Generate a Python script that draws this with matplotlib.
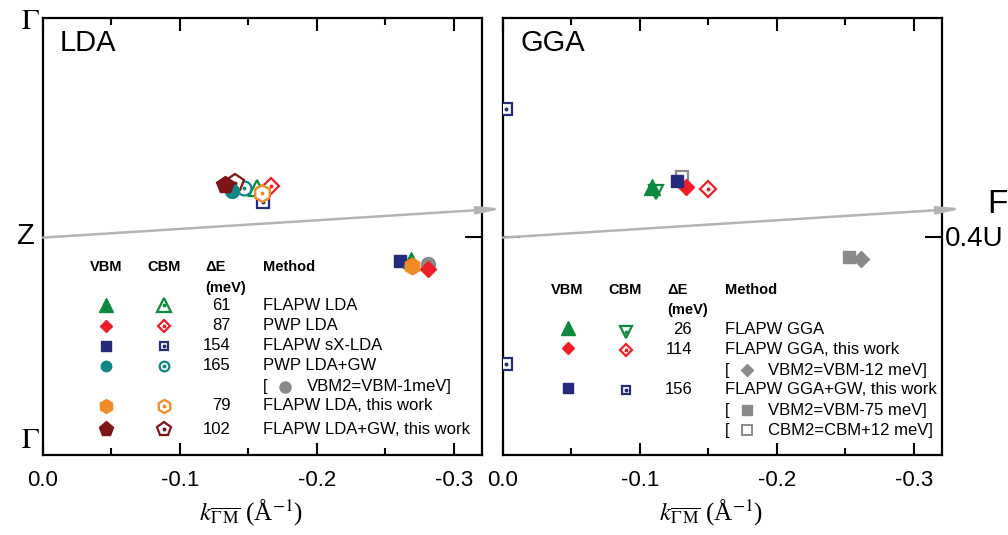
import matplotlib
matplotlib.use('Agg')
import matplotlib.pyplot as plt
from matplotlib.ticker import FixedLocator

plt.rcParams['font.family'] = ['Liberation Sans', 'DejaVu Sans']
plt.rcParams['mathtext.fontset'] = 'stix'

# colours per method
green = '#0d8a3f'
red = '#ee1d26'
navy = '#252a7a'
teal = '#0f8787'
orange = '#f28a25'
darkred = '#7b1518'
gray = '#8a8a8a'

# ---- LDA panel data ----
lda_methods = ['FLAPW LDA', 'PWP LDA', 'FLAPW sX-LDA', 'PWP LDA+GW',
               'FLAPW LDA, this work', 'FLAPW LDA+GW, this work']
lda_dE = ['61', '87', '154', '165', '79', '102']
lda_colors = [green, red, navy, teal, orange, darkred]
lda_markers = ['^', 'D', 's', 'o', 'h', 'p']
lda_vbm_k = [-0.2686, -0.281, -0.2606, -0.138, -0.2693, -0.1328]
lda_vbm_y = [-0.106, -0.151, -0.110, 0.206, -0.133, 0.234]
lda_cbm_k = [-0.156, -0.1664, -0.1606, -0.1467, -0.160, -0.140]
lda_cbm_y = [0.220, 0.229, 0.156, 0.220, 0.197, 0.243]
lda_vbm2_k = [-0.281]
lda_vbm2_y = [-0.124]

# ---- GGA panel data ----
gga_methods = ['FLAPW GGA', 'FLAPW GGA, this work', 'FLAPW GGA+GW, this work']
gga_dE = ['26', '114', '156']
gga_colors = [green, red, navy]
gga_vbm_markers = ['^', 'D', 's']
gga_cbm_markers = ['v', 'D', 's']
gga_vbm_k = [-0.1088, -0.1336, -0.127]
gga_vbm_y = [0.225, 0.225, 0.252]
gga_cbm_k = [-0.1117, -0.150, -0.002, -0.002]
gga_cbm_y = [0.202, 0.216, 0.583, -0.583]
gga_cbm_idx = [0, 1, 2, 2]
gga_vbm2_k = [-0.2613, -0.2526]   # GGA this work (diamond), GGA+GW (square)
gga_vbm2_y = [-0.105, -0.096]
gga_cbm2_k = [-0.1307]
gga_cbm2_y = [0.271]

xticks = [0.0, -0.1, -0.2, -0.3]
xticklabels = ['0.0', '-0.1', '-0.2', '-0.3']

# marker sizes: in the plot and in the tables
ms_plot = {'^': 11, 'v': 10, 'D': 8, 's': 8.5, 'o': 10, 'h': 12, 'p': 13}
ms_tab = {'^': 10, 'v': 9, 'D': 6.5, 's': 6.5, 'o': 7.5, 'h': 10, 'p': 11}

fig = plt.figure(figsize=(10.08, 5.35), dpi=100)
W, H = 1008., 535.
axL = fig.add_axes([43/W, 1-455/H, 439/W, 437/H])
axR = fig.add_axes([503/W, 1-455/H, 439/W, 437/H])


def tr(x, y, x0):
    # pixel position -> axes fraction
    return (x - x0)/439., (455. - y)/437.


def open_marker(ax, x, y, m, c, ms, transform=None, z=3):
    kw = {} if transform is None else {'transform': transform}
    ax.plot(x, y, ls='none', marker=m, ms=ms, mfc='white', mec=c, mew=1.6, zorder=z, **kw)
    ax.plot(x, y, ls='none', marker='o', ms=1.8, color=c, zorder=z, **kw)


for ax in (axL, axR):
    ax.set_xlim(0, -0.3205)
    ax.set_ylim(-1, 1)
    ax.xaxis.set_major_locator(FixedLocator(xticks))
    ax.set_xticklabels(xticklabels, fontsize=16)
    ax.xaxis.set_minor_locator(FixedLocator([-0.05, -0.15, -0.25]))
    ax.tick_params(axis='x', which='major', direction='in', length=9, width=1.5,
                   top=True, pad=11)
    ax.tick_params(axis='x', which='minor', direction='in', length=5, width=1.5, top=True)
    for s in ax.spines.values():
        s.set_linewidth(1.6)
    ax.set_xlabel(r'$k_{\overline{\Gamma}\,\overline{\mathrm{M}}}$ (Å$^{-1}$)',
                  fontsize=18, family='Liberation Serif')
    ax.xaxis.set_label_coords(0.475, -0.097)
    # gray k-path arrow
    ax.annotate('', xy=(-0.3355, 0.128), xytext=(0, -0.005), xycoords='data',
                annotation_clip=False,
                arrowprops=dict(arrowstyle='-|>,head_length=1.4,head_width=0.22',
                                color='#b3b3b3', lw=1.8, shrinkA=0, shrinkB=0))

# y ticks
axL.yaxis.set_ticks_position('right')
axL.set_yticks([0])
axL.set_yticklabels([''])
axL.tick_params(axis='y', direction='in', length=12, width=1.5)
axR.set_yticks([0])
axR.tick_params(axis='y', direction='in', length=12, width=1.5, left=True, right=True,
                labelleft=False, labelright=True, labelsize=20, pad=2)
axR.set_yticklabels(['0.4U'])

# symmetry labels
fig.text(30/W, 1-21/H, r'$\Gamma$', fontsize=21, ha='center', va='center')
fig.text(25/W, 1-236/H, 'Z', fontsize=21, ha='center', va='center')
fig.text(30/W, 1-440/H, r'$\Gamma$', fontsize=21, ha='center', va='center')
fig.text(997/W, 1-205/H, 'F', fontsize=24, ha='center', va='center')

axL.text(*tr(60, 43, 43), 'LDA', transform=axL.transAxes, fontsize=21, va='center')
axR.text(*tr(520, 43, 503), 'GGA', transform=axR.transAxes, fontsize=21, va='center')

# ---- LDA data points ----
for i in range(len(lda_methods)):
    m = lda_markers[i]
    open_marker(axL, lda_cbm_k[i], lda_cbm_y[i], m, lda_colors[i], ms_plot[m], z=3+i*0.1)
axL.plot(lda_vbm2_k, lda_vbm2_y, ls='none', marker='o', ms=ms_plot['o'], color=gray, zorder=4)
order = [3, 5, 2, 0, 1, 4]
for i in order:
    m = lda_markers[i]
    axL.plot(lda_vbm_k[i], lda_vbm_y[i], ls='none', marker=m, ms=ms_plot[m],
             color=lda_colors[i], zorder=5)
# orange open hexagon sits on top in the upper cluster
open_marker(axL, lda_cbm_k[4], lda_cbm_y[4], 'h', orange, ms_plot['h'], z=6)

# ---- GGA data points ----
axR.plot(gga_cbm2_k, gga_cbm2_y, ls='none', marker='s', ms=ms_plot['s'], mfc='white',
         mec=gray, mew=1.6, zorder=3)
for j, i in enumerate(gga_cbm_idx):
    m = gga_cbm_markers[i]
    open_marker(axR, gga_cbm_k[j], gga_cbm_y[j], m, gga_colors[i], ms_plot[m], z=3)
for i in range(len(gga_methods)):
    m = gga_vbm_markers[i]
    axR.plot(gga_vbm_k[i], gga_vbm_y[i], ls='none', marker=m, ms=ms_plot[m],
             color=gga_colors[i], zorder=5)
axR.plot(gga_vbm2_k[1], gga_vbm2_y[1], ls='none', marker='s', ms=ms_plot['s'], color=gray, zorder=5)
axR.plot(gga_vbm2_k[0], gga_vbm2_y[0], ls='none', marker='D', ms=ms_plot['D'], color=gray, zorder=4)

# ---- LDA table ----
x0 = 43
hy = 267
for lab, x in [('VBM', 106), ('CBM', 164)]:
    axL.text(*tr(x, hy, x0), lab, transform=axL.transAxes, fontsize=10.5,
             fontweight='bold', ha='center', va='center')
axL.text(*tr(205, hy, x0), 'ΔE', transform=axL.transAxes, fontsize=10.5,
         fontweight='bold', va='center')
axL.text(*tr(205, 288, x0), '(meV)', transform=axL.transAxes, fontsize=10.5,
         fontweight='bold', va='center')
axL.text(*tr(263, hy, x0), 'Method', transform=axL.transAxes, fontsize=10.5,
         fontweight='bold', va='center')
rows = [305, 326, 346, 366, 406, 429]
for i, ry in enumerate(rows):
    m = lda_markers[i]
    axL.plot(*tr(106, ry, x0), ls='none', marker=m, ms=ms_tab[m],
             color=lda_colors[i], transform=axL.transAxes, clip_on=False)
    open_marker(axL, *tr(164, ry, x0), m, lda_colors[i], ms_tab[m] - 0.5,
                transform=axL.transAxes)
    axL.text(*tr(231, ry, x0), lda_dE[i], transform=axL.transAxes, fontsize=12,
             ha='right', va='center')
    axL.text(*tr(263, ry, x0), lda_methods[i], transform=axL.transAxes, fontsize=12,
             va='center')
axL.text(*tr(263, 387, x0), '[', transform=axL.transAxes, fontsize=12, va='center')
axL.plot(*tr(285, 387, x0), ls='none', marker='o', ms=8, color=gray, transform=axL.transAxes)
axL.text(*tr(307, 387, x0), 'VBM2=VBM-1meV]', transform=axL.transAxes, fontsize=12,
         va='center')

# ---- GGA table ----
x0 = 503
hy = 290
for lab, x in [('VBM', 567), ('CBM', 625)]:
    axR.text(*tr(x, hy, x0), lab, transform=axR.transAxes, fontsize=10.5,
             fontweight='bold', ha='center', va='center')
axR.text(*tr(667, hy, x0), 'ΔE', transform=axR.transAxes, fontsize=10.5,
         fontweight='bold', va='center')
axR.text(*tr(667, 310, x0), '(meV)', transform=axR.transAxes, fontsize=10.5,
         fontweight='bold', va='center')
axR.text(*tr(725, hy, x0), 'Method', transform=axR.transAxes, fontsize=10.5,
         fontweight='bold', va='center')
rows = [330, 350, 390]
for i, ry in enumerate(rows):
    m = gga_vbm_markers[i]
    axR.plot(*tr(568, ry - 2, x0), ls='none', marker=m, ms=ms_tab[m],
             color=gga_colors[i], transform=axR.transAxes)
    mc = gga_cbm_markers[i]
    open_marker(axR, *tr(626, ry + (2 if mc == 'v' else 0), x0), mc, gga_colors[i],
                ms_tab[mc] - 0.5, transform=axR.transAxes)
    axR.text(*tr(692, ry, x0), gga_dE[i], transform=axR.transAxes, fontsize=12,
             ha='right', va='center')
    axR.text(*tr(725, ry, x0), gga_methods[i], transform=axR.transAxes, fontsize=12,
             va='center')
brackets = [(370, 'D', 'VBM2=VBM-12 meV]', True),
            (410, 's', 'VBM2=VBM-75 meV]', True),
            (430, 's', 'CBM2=CBM+12 meV]', False)]
for ry, m, lab, filled in brackets:
    axR.text(*tr(725, ry, x0), '[', transform=axR.transAxes, fontsize=12, va='center')
    if filled:
        axR.plot(*tr(747, ry, x0), ls='none', marker=m, ms=7 if m == 's' else 6.5,
                 color=gray, transform=axR.transAxes)
    else:
        axR.plot(*tr(747, ry, x0), ls='none', marker=m, ms=7, mfc='white', mec=gray,
                 mew=1.4, transform=axR.transAxes)
    axR.text(*tr(768, ry, x0), lab, transform=axR.transAxes, fontsize=12, va='center')

fig.savefig('out.png', dpi=100)
